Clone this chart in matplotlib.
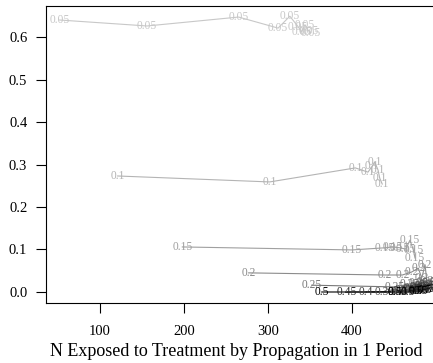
import matplotlib
matplotlib.use("Agg")
import matplotlib.pyplot as plt

# propagation probabilities (one line per value)
probs = ["0.05", "0.1", "0.15", "0.2", "0.25", "0.3", "0.35", "0.4", "0.45", "0.5"]

x_005 = [52, 156, 265, 312, 326, 336, 340, 344, 348, 351]
y_005 = [0.640, 0.626, 0.647, 0.621, 0.649, 0.624, 0.612, 0.629, 0.615, 0.610]

x_010 = [121, 302, 404, 419, 424, 427, 431, 433, 436]
y_010 = [0.273, 0.259, 0.292, 0.282, 0.296, 0.306, 0.287, 0.268, 0.254]

x_015 = [198, 400, 439, 449, 457, 464, 469, 473, 475]
y_015 = [0.106, 0.099, 0.104, 0.106, 0.104, 0.101, 0.122, 0.099, 0.080]

x_020 = [277, 439, 460, 471, 479, 483, 487, 489]
y_020 = [0.045, 0.040, 0.040, 0.047, 0.056, 0.033, 0.064, 0.026]

x_025 = [352, 451, 469, 479, 485, 489, 493]
y_025 = [0.016, 0.012, 0.019, 0.021, 0.014, 0.024, 0.016]

x_030 = [455, 469, 477, 483, 488, 492]
y_030 = [0.000, 0.007, 0.012, 0.014, 0.019, 0.021]

x_035 = [439, 463, 474, 481, 487, 491]
y_035 = [0.000, 0.005, 0.009, 0.012, 0.014, 0.016]

x_040 = [417, 457, 471, 480, 486, 489]
y_040 = [0.000, 0.002, 0.005, 0.007, 0.009, 0.012]

x_045 = [394, 455, 469, 479, 485, 488]
y_045 = [0.000, 0.000, 0.002, 0.005, 0.007, 0.007]

x_050 = [364, 451, 467, 476, 482, 487]
y_050 = [0.000, 0.000, 0.000, 0.002, 0.002, 0.005]

xs = [x_005, x_010, x_015, x_020, x_025, x_030, x_035, x_040, x_045, x_050]
ys = [y_005, y_010, y_015, y_020, y_025, y_030, y_035, y_040, y_045, y_050]

greys = ["#c8c8c8", "#b4b4b4", "#a0a0a0", "#8c8c8c", "#787878",
         "#646464", "#505050", "#3c3c3c", "#282828", "#000000"]

plt.rcParams["font.family"] = ["Liberation Serif", "DejaVu Serif"]

fig = plt.figure(figsize=(4.33, 3.63), dpi=100)
ax = fig.add_axes([46 / 433, 60 / 363, 390 / 433, 297 / 363])

for lab, x, y, c in zip(probs, xs, ys, greys):
    ax.plot(x, y, color=c, lw=0.8)
    for xi, yi in zip(x, y):
        ax.text(xi, yi, lab, color=c, fontsize=8.3, ha="center", va="center")

ax.set_xlim(35.7, 500)
ax.set_ylim(-0.0259, 0.673)
ax.set_xticks([100, 200, 300, 400])
ax.set_yticks([0.0, 0.1, 0.2, 0.3, 0.4, 0.5, 0.6])
ax.set_yticklabels(["0.0", "0.1", "0.2", "0.3", "0.4", "0.5", "0.6"])
ax.tick_params(direction="out", length=7, width=0.8, labelsize=10.5, pad=6.5)
ax.tick_params(axis="x", pad=9)
for s in ax.spines.values():
    s.set_linewidth(0.8)
ax.set_xlabel("N Exposed to Treatment by Propagation in 1 Period", fontsize=13)
# label sits centred under the visible part of the plot
ax.xaxis.set_label_coords((236 - 46) / 390, -0.135)

fig.savefig("out.png", dpi=100)
